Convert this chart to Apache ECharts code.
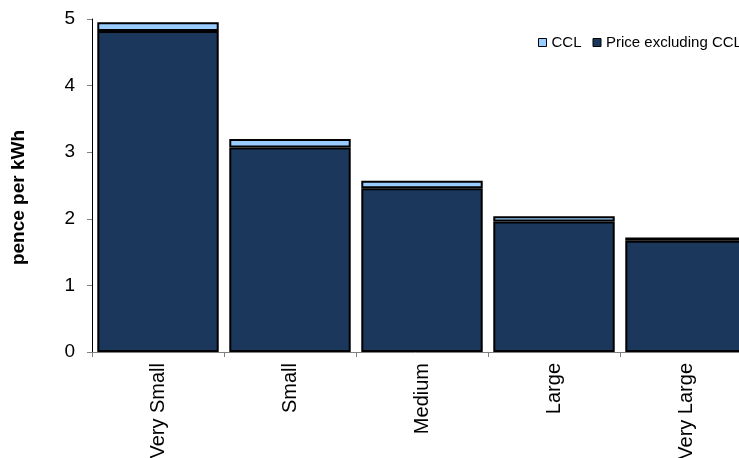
<!DOCTYPE html>
<html>
<head>
<meta charset="utf-8">
<script src="https://cdn.jsdelivr.net/npm/echarts@6/dist/echarts.min.js"></script>
<style>
  html, body { margin: 0; padding: 0; background: #fff; }
  #chart { width: 739px; height: 458px; }
</style>
</head>
<body>
<div id="chart"></div>
<script>
// Business size bands
const categories = ['Very Small', 'Small', 'Medium', 'Large', 'Very Large'];
// Price before the levy, pence per kWh
const priceExclCCL = [4.82, 3.07, 2.46, 1.96, 1.67];
// Climate Change Levy component, pence per kWh
const ccl = [0.13, 0.13, 0.11, 0.08, 0.05];
// Value axis ticks
const yTicks = [0, 1, 2, 3, 4, 5];

const FONT = 'Liberation Sans, Arial, sans-serif';
const NAVY = '#1b375c';
const LIGHT = '#99ccff';

const chart = echarts.init(document.getElementById('chart'), null, { renderer: 'canvas' });

chart.setOption({
  animation: false,
  backgroundColor: '#ffffff',
  textStyle: { fontFamily: FONT },
  legend: {
    data: ['CCL', 'Price excluding CCL'],
    orient: 'horizontal',
    left: 533,
    top: 30,
    width: 400,
    icon: 'rect',
    itemWidth: 8,
    itemHeight: 8,
    itemGap: 11,
    itemStyle: { borderColor: '#000', borderWidth: 1 },
    textStyle: { fontSize: 15, color: '#000', fontFamily: FONT }
  },
  grid: { left: 92, top: 19, width: 660, bottom: 106, containLabel: false, outerBoundsMode: 'none' },
  xAxis: {
    type: 'category',
    data: categories,
    boundaryGap: true,
    axisLine: { lineStyle: { color: '#808080', width: 1 } },
    axisTick: { show: true, length: 5, lineStyle: { color: '#808080' } },
    axisLabel: { rotate: 90, margin: 11, fontSize: 20, color: '#000', fontFamily: FONT }
  },
  yAxis: {
    type: 'value',
    min: yTicks[0],
    max: yTicks[yTicks.length - 1],
    interval: 1,
    name: 'pence per kWh',
    nameLocation: 'middle',
    nameRotate: 90,
    nameGap: 64,
    nameTextStyle: { fontSize: 19, fontWeight: 'bold', color: '#000', fontFamily: FONT, padding: [0, 24, 0, 0] },
    splitLine: { show: false },
    axisLine: { show: true, lineStyle: { color: '#000', width: 1 } },
    axisTick: { show: true, length: 5, lineStyle: { color: '#808080' } },
    axisLabel: { margin: 17, fontSize: 19, color: '#000', fontFamily: FONT }
  },
  series: [
    {
      name: 'Price excluding CCL',
      type: 'bar',
      stack: 'total',
      data: priceExclCCL,
      barCategoryGap: '8%',
      itemStyle: { color: NAVY, borderColor: '#000', borderWidth: 2 }
    },
    {
      name: 'CCL',
      type: 'bar',
      stack: 'total',
      data: ccl,
      barCategoryGap: '8%',
      itemStyle: { color: LIGHT, borderColor: '#000', borderWidth: 2 }
    }
  ]
});
</script>
</body>
</html>
